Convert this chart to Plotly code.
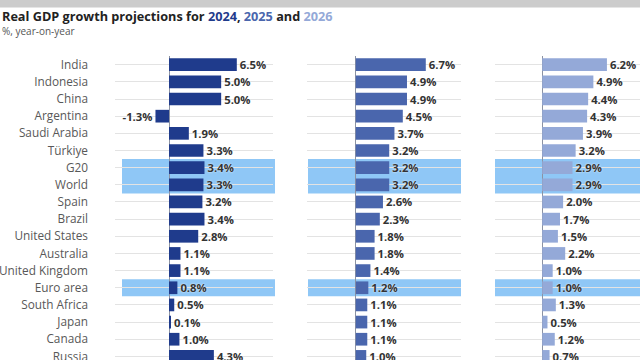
import plotly.graph_objects as go

countries = ["India", "Indonesia", "China", "Argentina", "Saudi Arabia", "Türkiye",
             "G20", "World", "Spain", "Brazil", "United States", "Australia",
             "United Kingdom", "Euro area", "South Africa", "Japan", "Canada", "Russia"]
gdp_2024 = [6.5, 5.0, 5.0, -1.3, 1.9, 3.3, 3.4, 3.3, 3.2, 3.4, 2.8, 1.1, 1.1, 0.8, 0.5, 0.1, 1.0, 4.3]
gdp_2025 = [6.7, 4.9, 4.9, 4.5, 3.7, 3.2, 3.2, 3.2, 2.6, 2.3, 1.8, 1.8, 1.4, 1.2, 1.1, 1.1, 1.1, 1.0]
gdp_2026 = [6.2, 4.9, 4.4, 4.3, 3.9, 3.2, 2.9, 2.9, 2.0, 1.7, 1.5, 2.2, 1.0, 1.0, 1.3, 0.5, 1.2, 0.7]
highlighted = [["G20", "World"], ["Euro area"]]

years = ["2024", "2025", "2026"]
colors = ["#1f3b8c", "#4a66ad", "#94a9d8"]
band_color = "#8fc7f6"

W, H = 640, 360
TOP = 56
PH = H - TOP

def px_x(p):
    return p / W

def px_y(p):
    return (H - p) / PH

panels_px = [(115, 273), (307, 461), (495, 640)]
panel_ranges = [[-5.18, 9.97], [-4.67, 10.07], [-4.53, 9.37]]
band_px = [(122, 275), (308, 461), (495, 640)]

fig = go.Figure()
series = [gdp_2024, gdp_2025, gdp_2026]
for k, vals in enumerate(series):
    sfx = "" if k == 0 else str(k + 1)
    fig.add_trace(go.Bar(
        x=vals, y=countries, orientation="h",
        marker=dict(color=colors[k], line=dict(width=0)),
        width=0.74,
        text=[f"{v:.1f}%" for v in vals],
        textposition="outside",
        constraintext="none",
        textfont=dict(family="Open Sans", size=11.3, color="#333333", weight="bold",
                      shadow="0px 0px 2px white"),
        cliponaxis=True,
        xaxis="x" + sfx, yaxis="y" + sfx,
        hoverinfo="skip", showlegend=False,
    ))

layout = dict(
    template="none",
    width=W, height=H,
    margin=dict(l=0, r=0, t=TOP, b=0, pad=0, autoexpand=False),
    paper_bgcolor="white", plot_bgcolor="white",
    font=dict(family="Open Sans", size=11, color="#555555"),
)
yrange = [17.21, -0.507]
for k in range(3):
    sfx = "" if k == 0 else str(k + 1)
    layout["xaxis" + sfx] = dict(
        domain=[px_x(panels_px[k][0]), px_x(panels_px[k][1])],
        range=panel_ranges[k], anchor="y" + sfx,
        showgrid=False, showticklabels=False, showline=False, ticks="",
        zeroline=True, zerolinecolor="#8c93a3", zerolinewidth=1,
        automargin=False, fixedrange=True,
    )
    layout["yaxis" + sfx] = dict(
        domain=[0, 1], anchor="x" + sfx, type="category",
        categoryorder="array", categoryarray=countries,
        range=yrange,
        showgrid=True, gridcolor="#e3e3e3", gridwidth=1,
        showline=False, ticks="", zeroline=False,
        showticklabels=(k == 0),
        ticklabelstandoff=26,
        tickfont=dict(family="Open Sans", size=11.8, color="#585858"),
        automargin=False, fixedrange=True,
    )
fig.update_layout(**layout)

shapes = []
for group in highlighted:
    i0 = countries.index(group[0])
    i1 = countries.index(group[-1])
    for k in range(3):
        shapes.append(dict(
            type="rect", xref="paper", yref="y" if k == 0 else "y" + str(k + 1),
            x0=px_x(band_px[k][0]), x1=px_x(band_px[k][1]),
            y0=i0 - 0.5, y1=i1 + 0.5,
            fillcolor=band_color, line=dict(width=0), layer="below",
        ))
shapes.append(dict(type="rect", xref="paper", yref="paper",
                   x0=0, x1=1, y0=px_y(7.5), y1=px_y(0),
                   fillcolor="#cccccc", line=dict(width=0), layer="above"))
fig.update_layout(shapes=shapes)

title = ("<b>Real GDP growth projections for "
         f"<span style='color:{colors[0]}'>{years[0]}</span>, "
         f"<span style='color:{colors[1]}'>{years[1]}</span> and "
         f"<span style='color:{colors[2]}'>{years[2]}</span></b>")
fig.add_annotation(text=title, xref="paper", yref="paper", x=px_x(0), y=px_y(15.5),
                   xanchor="left", yanchor="middle", showarrow=False,
                   font=dict(family="Open Sans", size=12.7, color="#222222"))
fig.add_annotation(text="%, year-on-year", xref="paper", yref="paper", x=px_x(0), y=px_y(30.5),
                   xanchor="left", yanchor="middle", showarrow=False,
                   font=dict(family="Open Sans", size=10, color="#555555"))

fig.write_html("out.html", config={"displayModeBar": False},
               post_script="document.body.style.margin='0';")
